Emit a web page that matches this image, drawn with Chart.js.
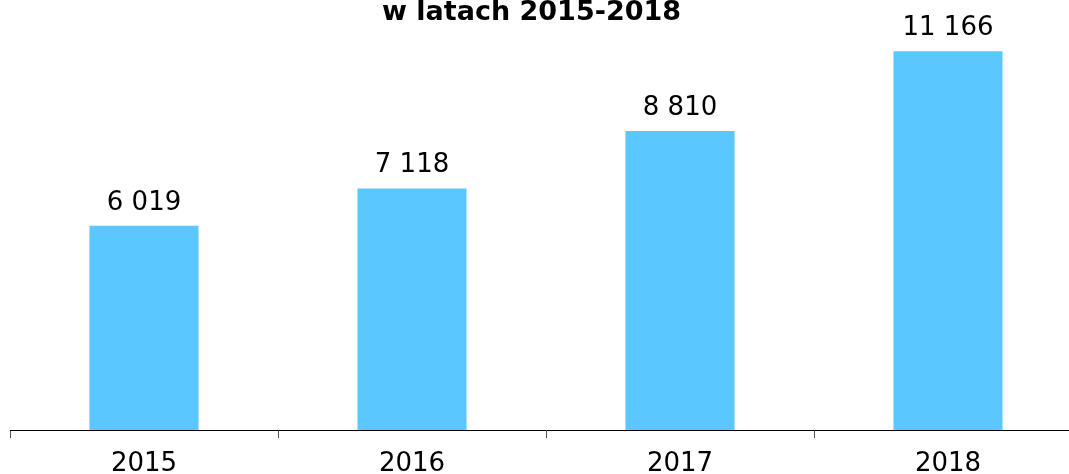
<!DOCTYPE html>
<html>
<head>
<meta charset="utf-8">
<script src="https://cdn.jsdelivr.net/npm/chart.js@4/dist/chart.umd.min.js"></script>
<style>
    body { margin: 0; overflow: hidden; background: #fff; }
    #wrap { width: 1069px; height: 474px; overflow: hidden; }
</style>
</head>
<body>
<div id="wrap"><canvas id="myChart" width="1090" height="474"></canvas></div>
<script>
let years = ['2015', '2016', '2017', '2018'];
let values = [6019, 7118, 8810, 11166];
let titleText = 'w latach 2015-2018';
let barColor = '#5ac8fe';

// 6 019 style, space as thousands separator
function fmt(v){
    return String(v).replace(/\B(?=(\d{3})+(?!\d))/g, ' ');
}

// title is centred on the visible page, not on the (wider) canvas
const topTitle = {
    id: 'topTitle',
    afterDraw(chart){
        let ctx = chart.ctx;
        ctx.save();
        ctx.font = 'bold 27px "DejaVu Sans", Verdana, sans-serif';
        ctx.fillStyle = '#000';
        ctx.textAlign = 'center';
        ctx.textBaseline = 'alphabetic';
        ctx.fillText(titleText, 531.5, 20);
        ctx.restore();
    }
};

const valueLabels = {
    id: 'valueLabels',
    afterDatasetsDraw(chart){
        let ctx = chart.ctx;
        let meta = chart.getDatasetMeta(0);
        ctx.save();
        ctx.font = '26px "DejaVu Sans", Verdana, sans-serif';
        ctx.fillStyle = '#000';
        ctx.textAlign = 'center';
        ctx.textBaseline = 'alphabetic';
        meta.data.forEach((bar, i) => {
            ctx.fillText(fmt(values[i]), bar.x, bar.y - 16);
        });
        ctx.restore();
    }
};

let ctx = document.getElementById('myChart').getContext('2d');
let myChart = new Chart(ctx, {
    type: 'bar',
    data: {
        labels: years,
        datasets: [{
            data: values,
            backgroundColor: barColor,
            borderWidth: 0,
            categoryPercentage: 1,
            barPercentage: 0.407
        }]
    },
    options: {
        responsive: false,
        animation: false,
        layout: { padding: { left: 10, right: 8, top: 32, bottom: 0 } },
        plugins: {
            legend: { display: false },
            tooltip: { enabled: false },
            title: { display: false }
        },
        scales: {
            x: {
                border: { display: true, color: '#000', width: 1 },
                grid: {
                    display: true,
                    drawOnChartArea: false,
                    drawTicks: true,
                    tickLength: 8,
                    color: '#555'
                },
                ticks: {
                    color: '#000',
                    padding: 20,
                    font: { family: '"DejaVu Sans", Verdana, sans-serif', size: 26, lineHeight: 0.5 }
                },
                afterFit(scale){
                    scale.height = 44;
                }
            },
            y: {
                display: false,
                min: 0,
                max: 11730
            }
        }
    },
    plugins: [valueLabels, topTitle]
});
</script>
</body>
</html>
